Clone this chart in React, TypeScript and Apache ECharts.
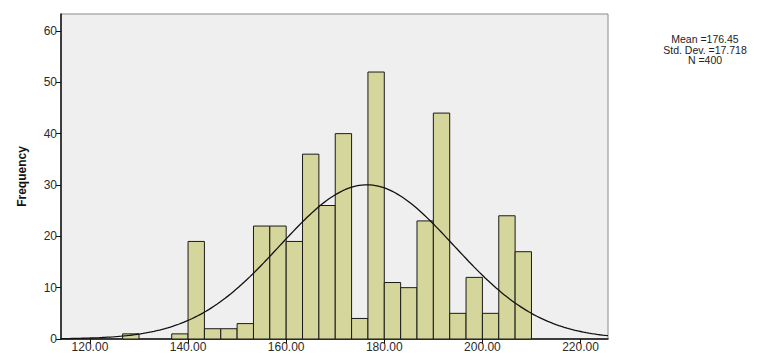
import React, { useEffect, useRef } from "react";
import * as echarts from "echarts";

const binStart = 126.6667;
const binWidth = 10 / 3;
const counts = [1, 0, 0, 1, 19, 2, 2, 3, 22, 22, 19, 36, 26, 40, 4, 52, 11, 10, 23, 44, 5, 12, 5, 24, 17];
const xTicks = [120, 140, 160, 180, 200, 220];
const yTicks = [0, 10, 20, 30, 40, 50, 60];
const mean = 176.45;
const stdDev = 17.718;
const n = 400;
const statsLines = ["Mean =176.45", "Std. Dev. =17.718", "N =400"];
const xMin = 114.1;
const xMax = 225.6;

export default function App() {
  const ref = useRef<HTMLDivElement>(null);
  useEffect(() => {
    if (!ref.current) return;
    const chart = echarts.init(ref.current, null, { renderer: "svg" });
    const bins = counts.map((c, i) => [binStart + i * binWidth, binStart + (i + 1) * binWidth, c]);
    const curve: number[][] = [];
    const steps = 200;
    for (let i = 0; i <= steps; i++) {
      const x = xMin + ((xMax - xMin) * i) / steps;
      const z = (x - mean) / stdDev;
      const y = (n * binWidth) / (stdDev * Math.sqrt(2 * Math.PI)) * Math.exp(-0.5 * z * z);
      curve.push([x, y]);
    }
    const labelFont = { fontFamily: "Liberation Sans, Arial", fontSize: 12, color: "#2a2a2a" };
    chart.setOption({
      animation: false,
      grid: {
        left: 61,
        right: 156,
        top: 14,
        bottom: 19,
        show: true,
        backgroundColor: "#efefef",
        borderColor: "#8a8a8a",
        borderWidth: 1,
      },
      xAxis: {
        type: "value",
        min: xMin,
        max: xMax,
        splitLine: { show: false },
        axisLine: { show: true, onZero: false, lineStyle: { color: "#111", width: 1.5 } },
        axisTick: { show: true, customValues: xTicks, length: 5, lineStyle: { color: "#111" } },
        axisLabel: {
          customValues: xTicks,
          formatter: (v: number) => v.toFixed(2),
          margin: 2,
          ...labelFont,
        },
      },
      yAxis: {
        type: "value",
        min: 0,
        max: 63.3,
        name: "Frequency",
        nameLocation: "middle",
        nameGap: 33,
        nameTextStyle: { fontFamily: "Liberation Sans, Arial", fontSize: 12, fontWeight: "bold", color: "#111" },
        splitLine: { show: false },
        axisLine: { show: true, lineStyle: { color: "#111", width: 1.5 } },
        axisTick: { show: true, customValues: yTicks, length: 5, lineStyle: { color: "#111" } },
        axisLabel: { customValues: yTicks, margin: 4, ...labelFont },
      },
      graphic: statsLines.map((t, i) => ({
        type: "text",
        x: 705,
        y: 33.5 + i * 10.5,
        style: {
          text: t,
          textAlign: "center",
          textVerticalAlign: "top",
          fontFamily: "Liberation Sans, Arial",
          fontSize: 10.5,
          fill: "#222",
        },
      })),
      series: [
        {
          type: "custom",
          data: bins,
          encode: { x: [0, 1], y: 2 },
          renderItem: (params: any, api: any) => {
            const x0 = api.value(0);
            const x1 = api.value(1);
            const c = api.value(2);
            if (c <= 0) return null;
            const p0 = api.coord([x0, c]);
            const p1 = api.coord([x1, 0]);
            return {
              type: "rect",
              shape: { x: p0[0], y: p0[1], width: p1[0] - p0[0], height: p1[1] - p0[1] },
              style: { fill: "#d5d69b", stroke: "#1a1a1a", lineWidth: 1 },
            };
          },
        },
        {
          type: "line",
          data: curve,
          showSymbol: false,
          smooth: false,
          lineStyle: { color: "#111", width: 1.3 },
          z: 5,
        },
      ],
    });
    return () => chart.dispose();
  }, []);
  return <div ref={ref} style={{ width: 764, height: 358, position: "absolute", left: 0, top: 0 }} />;
}
